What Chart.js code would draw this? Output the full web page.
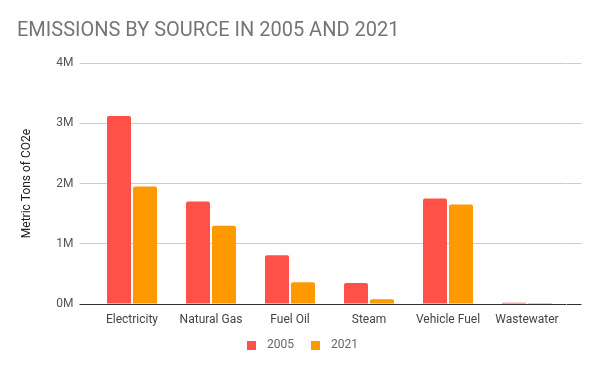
<!DOCTYPE html>
<html>
<head>
<meta charset="utf-8">
<script src="https://cdn.jsdelivr.net/npm/chart.js@4/dist/chart.umd.min.js"></script>
<style>
html,body{margin:0;padding:0;background:#fff;}
#wrap{width:600px;height:371px;position:relative;}
</style>
</head>
<body>
<div id="wrap"><canvas id="c" width="600" height="371"></canvas></div>
<script>
const categories = ["Electricity", "Natural Gas", "Fuel Oil", "Steam", "Vehicle Fuel", "Wastewater"];
const series2005 = [3120000, 1700000, 810000, 350000, 1750000, 20000];
const series2021 = [1950000, 1300000, 360000, 80000, 1650000, 15000];
const seriesNames = ["2005", "2021"];
const seriesColors = ["#ff5147", "#ff9900"];
const yTicks = [0, 1000000, 2000000, 3000000, 4000000];
const tickLabel = v => (v / 1000000) + "M";

const gridColor = c => (c.tick && c.tick.value === 0) ? '#333333' : '#cccccc';

function swatch(color) {
  const cv = document.createElement('canvas');
  cv.width = 9; cv.height = 9;
  const g = cv.getContext('2d');
  g.fillStyle = color; g.fillRect(0, 0, 9, 9);
  return cv;
}
const swatches = seriesColors.map(swatch);

Chart.defaults.font.family = 'Roboto, "Liberation Sans", sans-serif';

new Chart(document.getElementById('c'), {
  type: 'bar',
  data: {
    labels: categories,
    datasets: [
      { label: seriesNames[0], data: series2005, backgroundColor: seriesColors[0], borderRadius: 2, borderSkipped: 'start' },
      { label: seriesNames[1], data: series2021, backgroundColor: seriesColors[1], borderRadius: 2, borderSkipped: 'start' }
    ]
  },
  options: {
    responsive: false,
    animation: false,
    devicePixelRatio: 1,
    layout: { padding: { left: 17, right: 17, top: 0, bottom: 10 } },
    datasets: { bar: { categoryPercentage: 0.658, barPercentage: 0.923 } },
    plugins: {
      title: {
        display: true,
        text: 'EMISSIONS BY SOURCE IN 2005 AND 2021',
        align: 'start',
        color: '#757575',
        font: { size: 20, weight: 'normal' },
        padding: { top: 19, bottom: 20 }
      },
      legend: {
        position: 'bottom',
        labels: {
          usePointStyle: true,
          pointStyleWidth: 19,
          boxHeight: 9,
          color: '#666',
          font: { size: 12 },
          padding: 12,
          generateLabels: chart => Chart.defaults.plugins.legend.labels.generateLabels(chart).map((l, i) => Object.assign(l, { pointStyle: swatches[i] }))
        }
      },
      tooltip: { enabled: false }
    },
    scales: {
      x: {
        grid: { display: false, drawTicks: false },
        border: { display: false },
        ticks: { color: '#444', font: { size: 12 }, padding: 9, maxRotation: 0 },
        afterFit: s => { s.height = 23; }
      },
      y: {
        min: 0, max: 4000000,
        afterBuildTicks: s => { s.ticks = yTicks.map(v => ({ value: v })); },
        ticks: { callback: tickLabel, color: '#555', font: { size: 12 }, padding: 6 },
        grid: { color: gridColor, tickColor: gridColor, tickLength: 13, lineWidth: 1 },
        border: { display: false },
        title: { display: true, text: 'Metric Tons of CO2e', color: '#222', font: { size: 12 }, padding: { top: 2.5, bottom: 0 } },
        afterFit: s => { s.width = 75.5; }
      },
      y2: {
        position: 'right',
        min: 0, max: 4000000,
        afterBuildTicks: s => { s.ticks = yTicks.map(v => ({ value: v })); },
        ticks: { display: false },
        grid: { drawOnChartArea: false, drawTicks: true, tickLength: 15, color: gridColor, tickColor: gridColor },
        border: { display: false },
        afterFit: s => { s.width = 16.5; }
      }
    }
  }
});
</script>
</body>
</html>
